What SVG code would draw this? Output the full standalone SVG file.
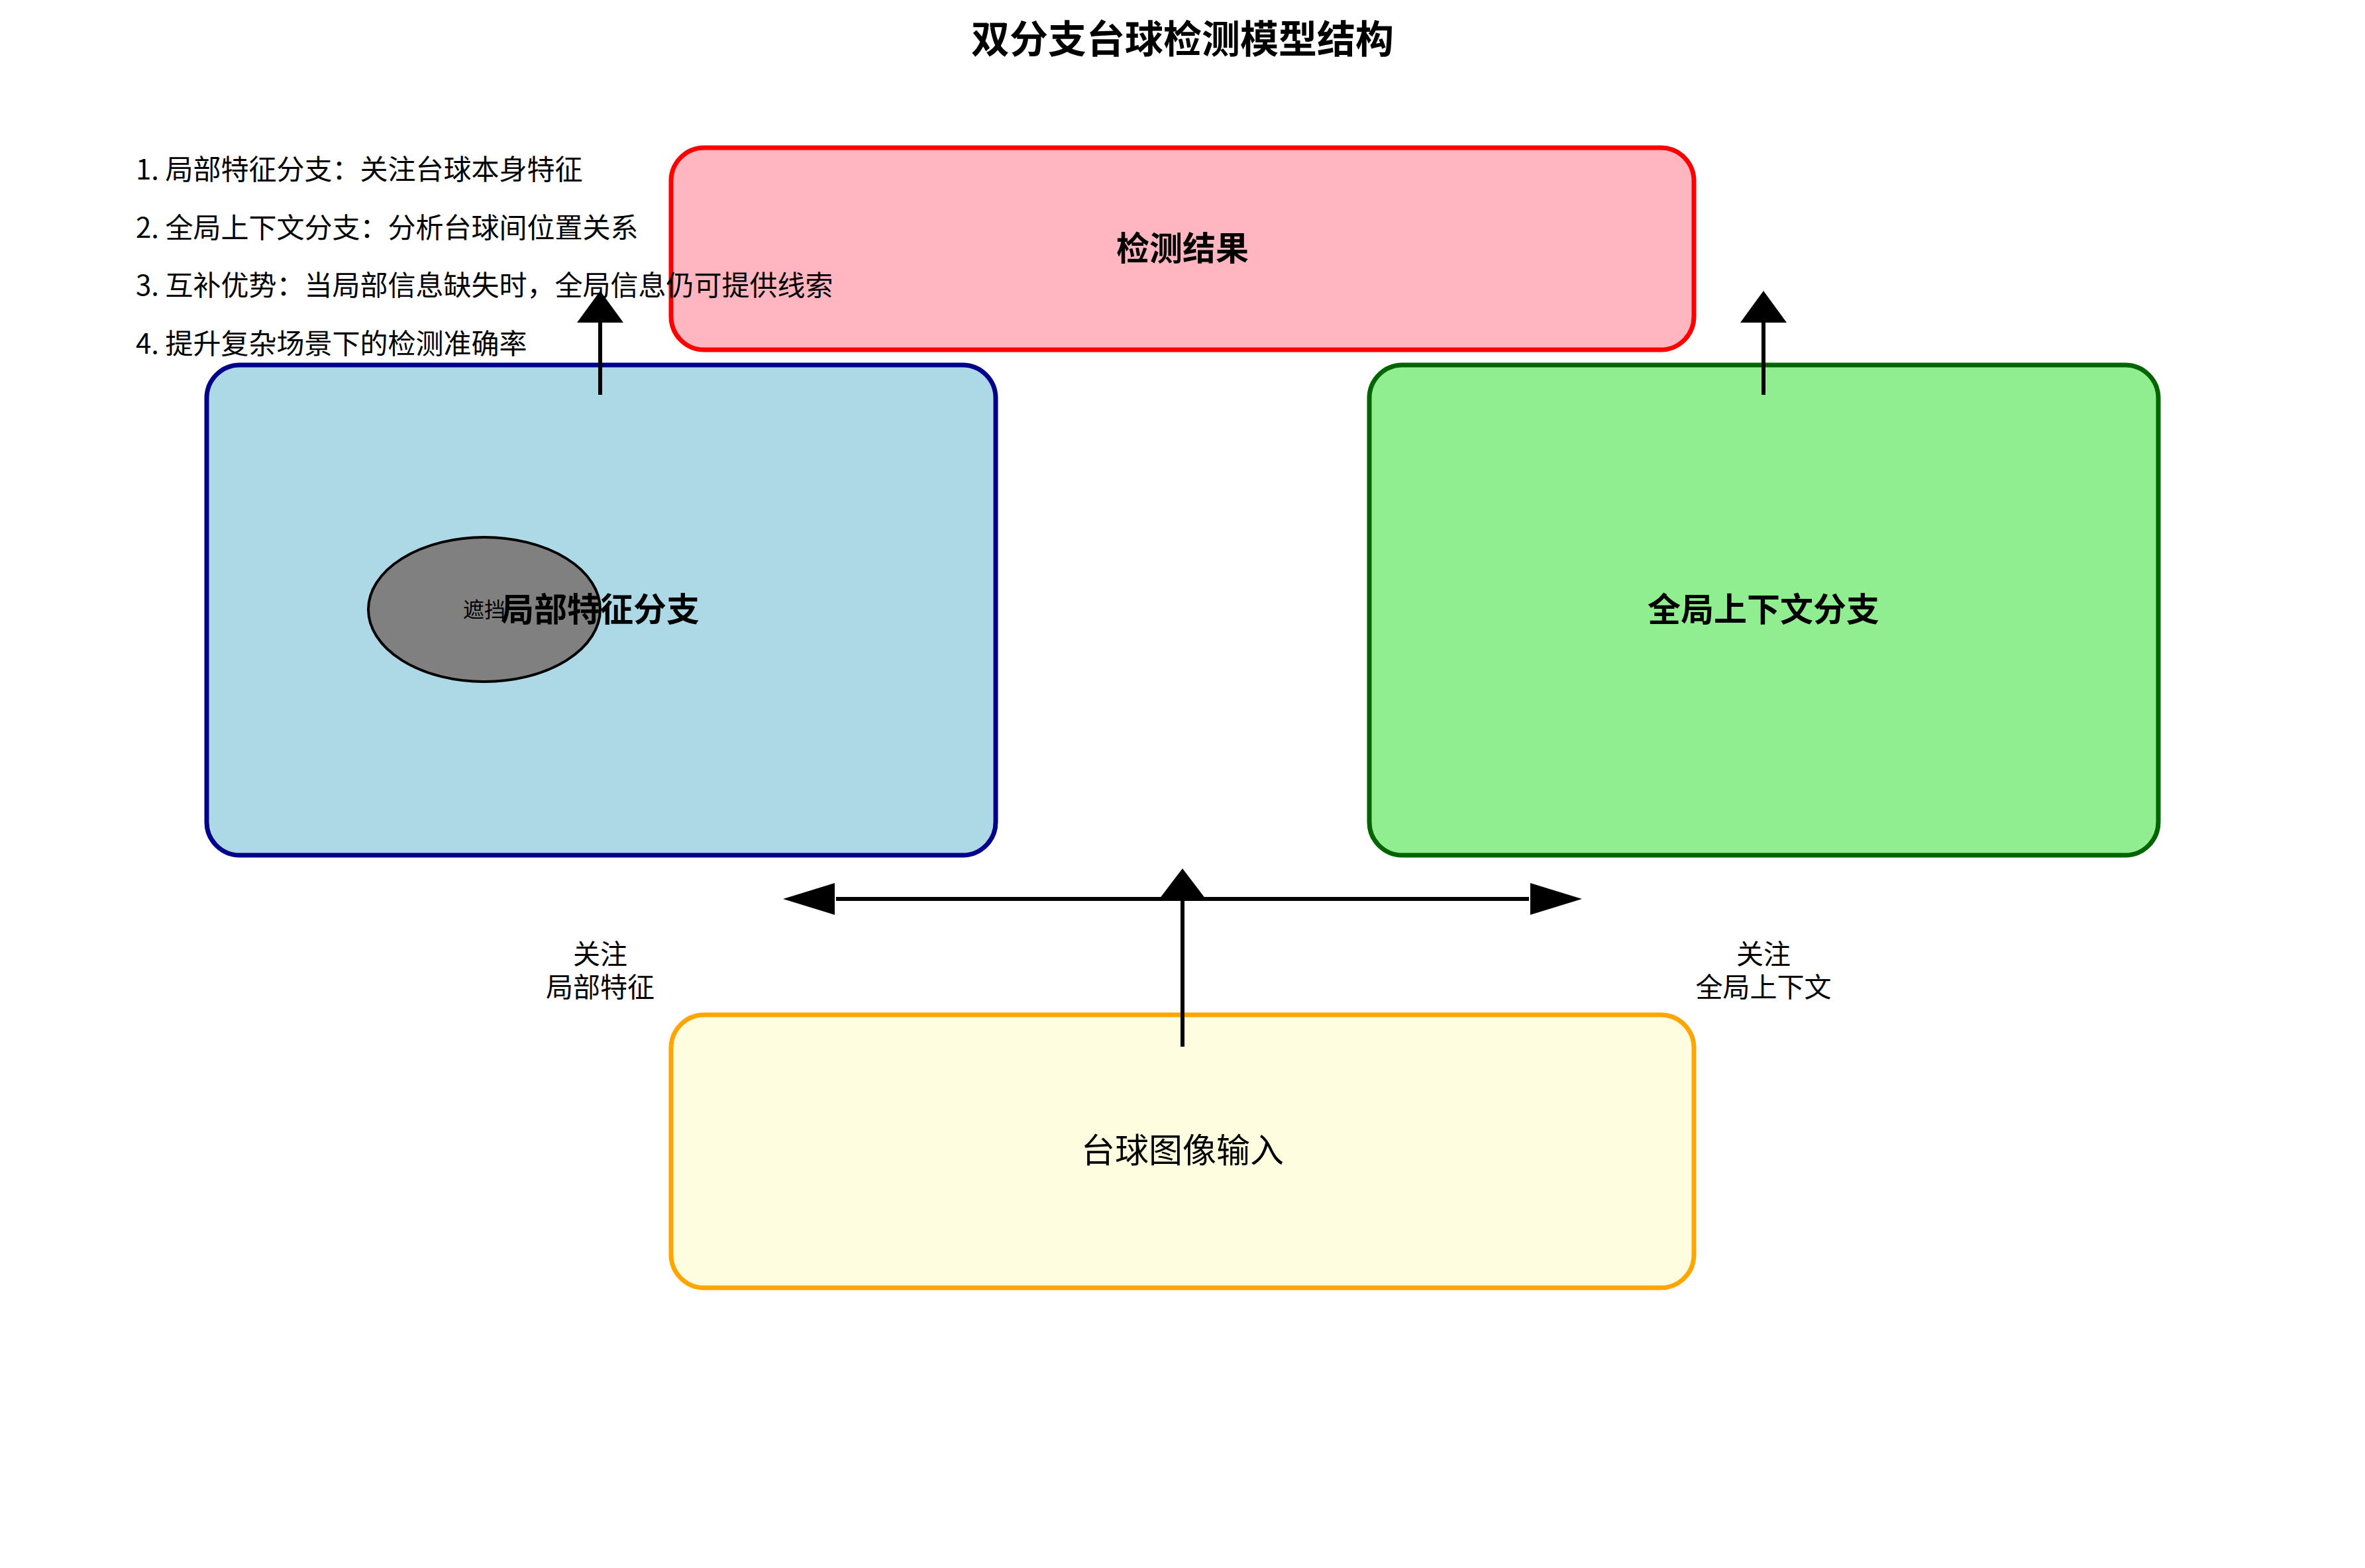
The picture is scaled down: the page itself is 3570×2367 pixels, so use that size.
<svg xmlns="http://www.w3.org/2000/svg" width="3570" height="2367" viewBox="0 0 3570 2367">
<style>
text{font-family:"Noto Sans CJK SC","Noto Sans",sans-serif;fill:#000;dominant-baseline:central}
.b{font-weight:bold}
.box{stroke-width:7}
.ln{stroke:#000;stroke-width:6;fill:none}
.head{fill:#000}
</style>
<rect width="3570" height="2367" fill="#fff"/>
<text class="b" x="1785" y="55" font-size="58" text-anchor="middle">双分支台球检测模型结构</text>
<g id="result"><rect class="box" x="1013" y="223" width="1544" height="305" rx="50" fill="#FFB6C1" stroke="#FF0000"/>
<text class="b" x="1785" y="371" font-size="50" text-anchor="middle">检测结果</text></g>
<g id="local"><rect class="box" x="312" y="551" width="1191" height="740" rx="50" fill="#ADD8E6" stroke="#00008B"/>
<ellipse cx="731" cy="920" rx="175" ry="109" fill="#808080" stroke="#000" stroke-width="4"/>
<text x="731" y="918" font-size="32" text-anchor="middle">遮挡</text>
<text class="b" x="906" y="916" font-size="50" text-anchor="middle">局部特征分支</text></g>
<g id="global"><rect class="box" x="2067" y="551" width="1191" height="740" rx="50" fill="#90EE90" stroke="#006400"/>
<text class="b" x="2662" y="916" font-size="50" text-anchor="middle">全局上下文分支</text></g>
<g id="input"><rect class="box" x="1013" y="1532" width="1544" height="412" rx="50" fill="#FFFDE0" stroke="#FFA500"/>
<text x="1785" y="1733" font-size="51" text-anchor="middle">台球图像输入</text></g>
<g id="connectors">
<line class="ln" x1="1785" y1="1580" x2="1785" y2="1350"/>
<polygon class="head" points="1785,1311 1750,1357 1820,1357"/>
<line class="ln" x1="1785" y1="1357" x2="1262" y2="1357"/>
<polygon class="head" points="1182,1357 1260,1333 1260,1381"/>
<line class="ln" x1="1785" y1="1357" x2="2308" y2="1357"/>
<polygon class="head" points="2388,1357 2310,1333 2310,1381"/>
<line class="ln" x1="906" y1="596" x2="906" y2="480"/>
<polygon class="head" points="906,439 871,487 941,487"/>
<line class="ln" x1="2662" y1="596" x2="2662" y2="480"/>
<polygon class="head" points="2662,439 2627,487 2697,487"/>
</g>
<g id="labels" font-size="41">
<text x="906" y="1437" text-anchor="middle">关注</text>
<text x="906" y="1487" text-anchor="middle">局部特征</text>
<text x="2662" y="1437" text-anchor="middle">关注</text>
<text x="2662" y="1487" text-anchor="middle">全局上下文</text>
</g>
<g id="notes" font-size="42">
<text x="205" y="252">1. 局部特征分支：关注台球本身特征</text>
<text x="205" y="340">2. 全局上下文分支：分析台球间位置关系</text>
<text x="205" y="427">3. 互补优势：当局部信息缺失时，全局信息仍可提供线索</text>
<text x="205" y="515">4. 提升复杂场景下的检测准确率</text>
</g>
</svg>
